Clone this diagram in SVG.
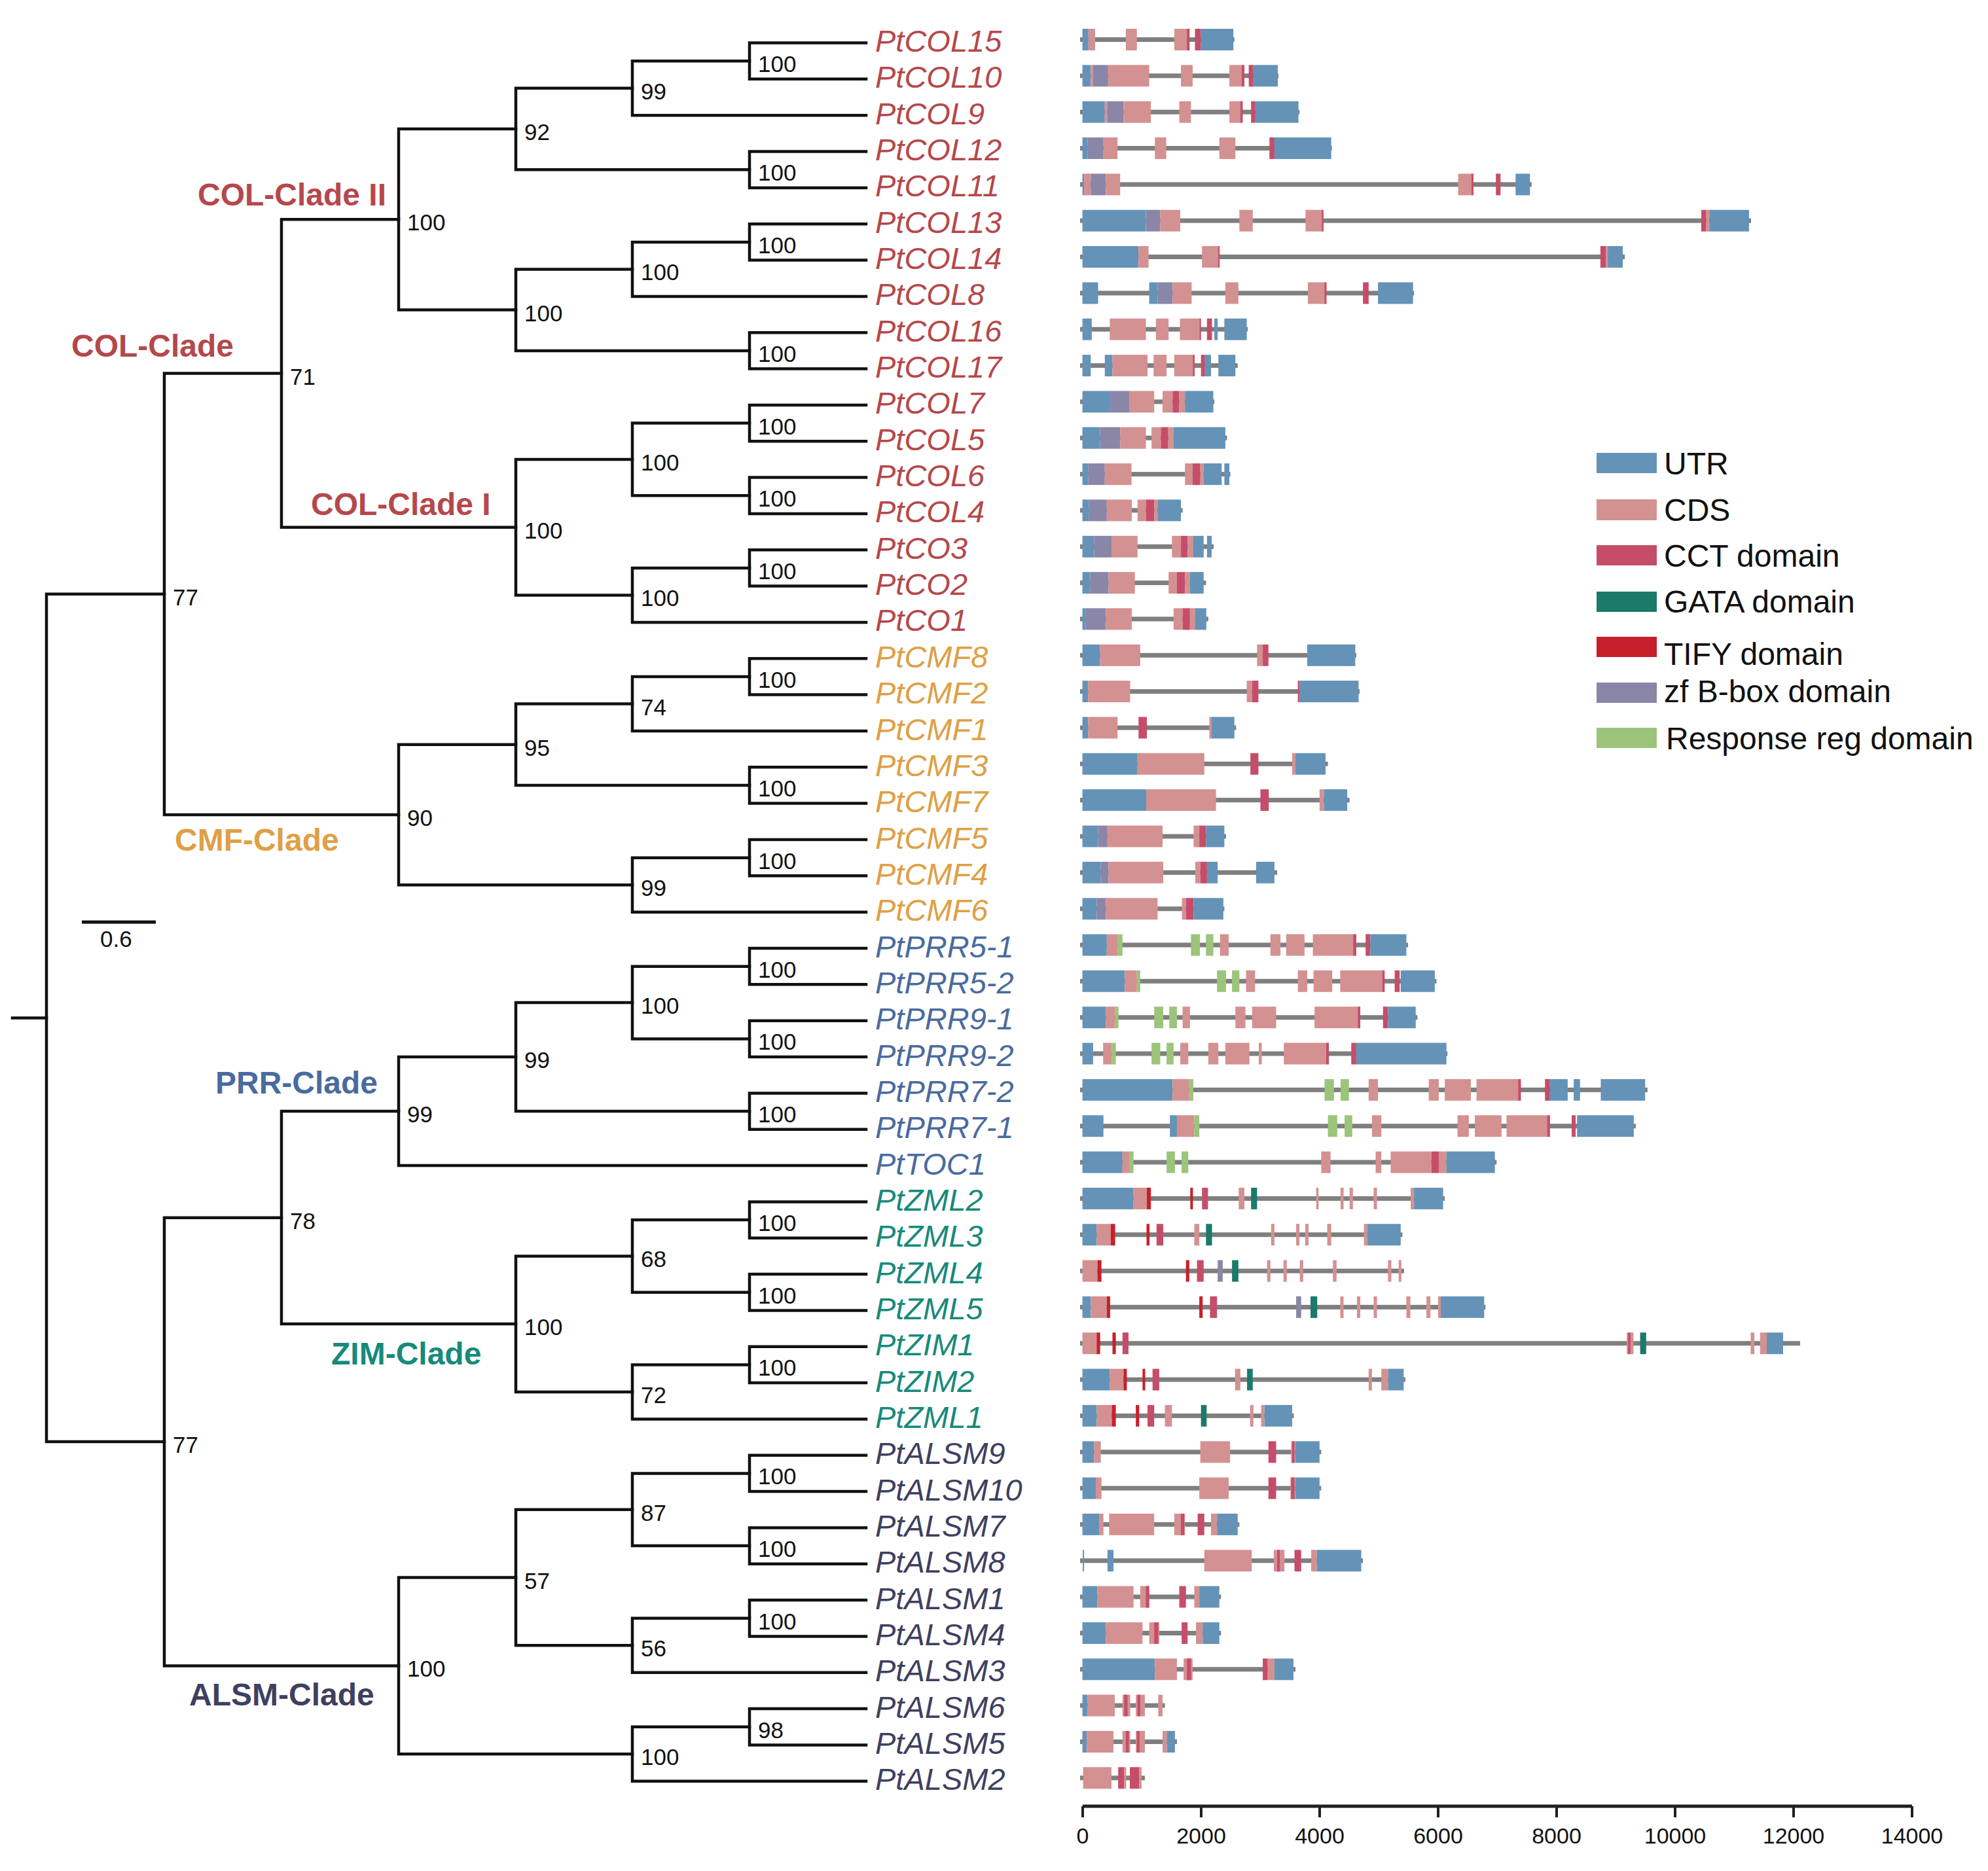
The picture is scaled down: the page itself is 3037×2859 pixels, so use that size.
<svg xmlns="http://www.w3.org/2000/svg" width="3037" height="2859" viewBox="0 0 3037 2859">
<style>
.br{fill:none;stroke:#111;stroke-width:4.5;stroke-linecap:square}
.bs{font-family:"Liberation Sans",Arial,sans-serif;font-size:35px;fill:#111}
.lf{font-family:"Liberation Sans",Arial,sans-serif;font-style:italic;font-size:47px}
.cl{font-family:"Liberation Sans",Arial,sans-serif;font-weight:bold;font-size:48px}
.lg{font-family:"Liberation Sans",Arial,sans-serif;font-size:48px;fill:#111}
.ax{font-family:"Liberation Sans",Arial,sans-serif;font-size:34px;fill:#111;text-anchor:middle}
.tcol{fill:#b5484b}.tcmf{fill:#dea046}.tprr{fill:#4a6b9e}.tzim{fill:#178a7a}.tals{fill:#3e4060}
.i{fill:#7f7f7f}.u{fill:#6593b8}.c{fill:#d49191}.k{fill:#c64d6a}.z{fill:#8a86a8}.r{fill:#9cc47b}.g{fill:#1b7a6a}.t{fill:#c8202a}
</style>
<rect width="3037" height="2859" fill="#fff"/>
<g id="connectors">
<path class="br" d="M19 1555.4H71"/>
<path class="br" d="M251 907.8H71V2203H251"/>
<path class="br" d="M1323 65.5H1145V120.8H1323"/>
<path class="br" d="M1145 93.2H966V176.2H1323"/>
<path class="br" d="M1323 231.5H1145V286.9H1323"/>
<path class="br" d="M966 134.7H788V259.2H1145"/>
<path class="br" d="M1323 342.2H1145V397.5H1323"/>
<path class="br" d="M1145 369.9H966V452.9H1323"/>
<path class="br" d="M1323 508.2H1145V563.6H1323"/>
<path class="br" d="M966 411.4H788V535.9H1145"/>
<path class="br" d="M788 197H609V473.6H788"/>
<path class="br" d="M1323 618.9H1145V674.2H1323"/>
<path class="br" d="M1323 729.6H1145V784.9H1323"/>
<path class="br" d="M1145 646.6H966V757.3H1145"/>
<path class="br" d="M1323 840.3H1145V895.6H1323"/>
<path class="br" d="M1145 868H966V950.9H1323"/>
<path class="br" d="M966 702H788V909.4H966"/>
<path class="br" d="M609 335.3H430V805.7H788"/>
<path class="br" d="M1323 1006.3H1145V1061.6H1323"/>
<path class="br" d="M1145 1034H966V1117H1323"/>
<path class="br" d="M1323 1172.3H1145V1227.6H1323"/>
<path class="br" d="M966 1075.5H788V1200H1145"/>
<path class="br" d="M1323 1283H1145V1338.3H1323"/>
<path class="br" d="M1145 1310.7H966V1393.7H1323"/>
<path class="br" d="M788 1137.7H609V1352.2H966"/>
<path class="br" d="M430 570.5H251V1245H609"/>
<path class="br" d="M1323 1449H1145V1504.3H1323"/>
<path class="br" d="M1323 1559.7H1145V1615H1323"/>
<path class="br" d="M1145 1476.7H966V1587.4H1145"/>
<path class="br" d="M1323 1670.4H1145V1725.7H1323"/>
<path class="br" d="M966 1532H788V1698H1145"/>
<path class="br" d="M788 1615H609V1781H1323"/>
<path class="br" d="M1323 1836.4H1145V1891.7H1323"/>
<path class="br" d="M1323 1947.1H1145V2002.4H1323"/>
<path class="br" d="M1145 1864H966V1974.7H1145"/>
<path class="br" d="M1323 2057.7H1145V2113.1H1323"/>
<path class="br" d="M1145 2085.4H966V2168.4H1323"/>
<path class="br" d="M966 1919.4H788V2126.9H966"/>
<path class="br" d="M609 1698H430V2023H788"/>
<path class="br" d="M1323 2223.8H1145V2279.1H1323"/>
<path class="br" d="M1323 2334.4H1145V2389.8H1323"/>
<path class="br" d="M1145 2251.4H966V2362.1H1145"/>
<path class="br" d="M1323 2445.1H1145V2500.5H1323"/>
<path class="br" d="M1145 2472.8H966V2555.8H1323"/>
<path class="br" d="M966 2306.8H788V2514.3H966"/>
<path class="br" d="M1323 2611.1H1145V2666.5H1323"/>
<path class="br" d="M1145 2638.8H966V2721.8H1323"/>
<path class="br" d="M788 2410.5H609V2680.3H966"/>
<path class="br" d="M430 1860.7H251V2545.4H609"/>
</g>
<g id="bootstrap">
<text class="bs" x="1158" y="110.2">100</text>
<text class="bs" x="979" y="151.7">99</text>
<text class="bs" x="1158" y="276.2">100</text>
<text class="bs" x="801" y="214">92</text>
<text class="bs" x="1158" y="386.9">100</text>
<text class="bs" x="979" y="428.4">100</text>
<text class="bs" x="1158" y="552.9">100</text>
<text class="bs" x="801" y="490.6">100</text>
<text class="bs" x="622" y="352.3">100</text>
<text class="bs" x="1158" y="663.6">100</text>
<text class="bs" x="1158" y="774.3">100</text>
<text class="bs" x="979" y="719">100</text>
<text class="bs" x="1158" y="885">100</text>
<text class="bs" x="979" y="926.4">100</text>
<text class="bs" x="801" y="822.7">100</text>
<text class="bs" x="443" y="587.5">71</text>
<text class="bs" x="1158" y="1051">100</text>
<text class="bs" x="979" y="1092.5">74</text>
<text class="bs" x="1158" y="1217">100</text>
<text class="bs" x="801" y="1154.7">95</text>
<text class="bs" x="1158" y="1327.7">100</text>
<text class="bs" x="979" y="1369.2">99</text>
<text class="bs" x="622" y="1262">90</text>
<text class="bs" x="264" y="924.8">77</text>
<text class="bs" x="1158" y="1493.7">100</text>
<text class="bs" x="1158" y="1604.4">100</text>
<text class="bs" x="979" y="1549">100</text>
<text class="bs" x="1158" y="1715">100</text>
<text class="bs" x="801" y="1632">99</text>
<text class="bs" x="622" y="1715">99</text>
<text class="bs" x="1158" y="1881">100</text>
<text class="bs" x="1158" y="1991.7">100</text>
<text class="bs" x="979" y="1936.4">68</text>
<text class="bs" x="1158" y="2102.4">100</text>
<text class="bs" x="979" y="2143.9">72</text>
<text class="bs" x="801" y="2040">100</text>
<text class="bs" x="443" y="1877.7">78</text>
<text class="bs" x="1158" y="2268.4">100</text>
<text class="bs" x="1158" y="2379.1">100</text>
<text class="bs" x="979" y="2323.8">87</text>
<text class="bs" x="1158" y="2489.8">100</text>
<text class="bs" x="979" y="2531.3">56</text>
<text class="bs" x="801" y="2427.5">57</text>
<text class="bs" x="1158" y="2655.8">98</text>
<text class="bs" x="979" y="2697.3">100</text>
<text class="bs" x="622" y="2562.4">100</text>
<text class="bs" x="264" y="2220">77</text>
</g>
<g id="clades">
<text class="cl tcol" x="302" y="314">COL-Clade II</text>
<text class="cl tcol" x="109" y="545">COL-Clade</text>
<text class="cl tcol" x="475" y="787">COL-Clade I</text>
<text class="cl tcmf" x="267" y="1300">CMF-Clade</text>
<text class="cl tprr" x="329" y="1671">PRR-Clade</text>
<text class="cl tzim" x="506" y="2085">ZIM-Clade</text>
<text class="cl tals" x="289" y="2606">ALSM-Clade</text>
</g>
<g id="scalebar">
<path d="M125 1409H238" stroke="#111" stroke-width="5"/>
<text class="bs" x="153" y="1447">0.6</text>
</g>
<g id="leaves">
<g id="PtCOL15"><text class="lf tcol" x="1337" y="79">PtCOL15</text><g transform="translate(1600 60.5) scale(0.5102 1)"><rect class="i" x="98" y="-3.5" width="462" height="7"/><rect class="u" x="105" y="-16.5" width="18" height="33"/><rect class="c" x="123" y="-16.5" width="20" height="33"/><rect class="c" x="235" y="-16.5" width="33" height="33"/><rect class="c" x="380" y="-16.5" width="40" height="33"/><rect class="k" x="418" y="-16.5" width="8" height="33"/><rect class="k" x="442" y="-16.5" width="18" height="33"/><rect class="u" x="460" y="-16.5" width="97" height="33"/></g></g>
<g id="PtCOL10"><text class="lf tcol" x="1337" y="134.3">PtCOL10</text><g transform="translate(1600 115.8) scale(0.5102 1)"><rect class="i" x="98" y="-3.5" width="594" height="7"/><rect class="u" x="105" y="-16.5" width="25" height="33"/><rect class="c" x="130" y="-16.5" width="7" height="33"/><rect class="z" x="137" y="-16.5" width="45" height="33"/><rect class="c" x="182" y="-16.5" width="123" height="33"/><rect class="c" x="400" y="-16.5" width="35" height="33"/><rect class="c" x="545" y="-16.5" width="37" height="33"/><rect class="k" x="582" y="-16.5" width="8" height="33"/><rect class="k" x="603" y="-16.5" width="14" height="33"/><rect class="u" x="617" y="-16.5" width="73" height="33"/></g></g>
<g id="PtCOL9"><text class="lf tcol" x="1337" y="189.7">PtCOL9</text><g transform="translate(1600 171.2) scale(0.5102 1)"><rect class="i" x="98" y="-3.5" width="657" height="7"/><rect class="u" x="105" y="-16.5" width="67" height="33"/><rect class="c" x="172" y="-16.5" width="8" height="33"/><rect class="z" x="180" y="-16.5" width="48" height="33"/><rect class="c" x="228" y="-16.5" width="82" height="33"/><rect class="c" x="395" y="-16.5" width="35" height="33"/><rect class="c" x="545" y="-16.5" width="35" height="33"/><rect class="k" x="578" y="-16.5" width="7" height="33"/><rect class="k" x="610" y="-16.5" width="13" height="33"/><rect class="u" x="623" y="-16.5" width="129" height="33"/></g></g>
<g id="PtCOL12"><text class="lf tcol" x="1337" y="245">PtCOL12</text><g transform="translate(1600 226.5) scale(0.5102 1)"><rect class="i" x="98" y="-3.5" width="754" height="7"/><rect class="u" x="105" y="-16.5" width="15" height="33"/><rect class="z" x="120" y="-16.5" width="48" height="33"/><rect class="c" x="168" y="-16.5" width="42" height="33"/><rect class="c" x="322" y="-16.5" width="34" height="33"/><rect class="c" x="515" y="-16.5" width="48" height="33"/><rect class="k" x="665" y="-16.5" width="15" height="33"/><rect class="u" x="680" y="-16.5" width="170" height="33"/></g></g>
<g id="PtCOL11"><text class="lf tcol" x="1337" y="300.4">PtCOL11</text><g transform="translate(1600 281.9) scale(0.5102 1)"><rect class="i" x="98" y="-3.5" width="1352" height="7"/><rect class="u" x="105" y="-16.5" width="5" height="33"/><rect class="c" x="110" y="-16.5" width="20" height="33"/><rect class="z" x="130" y="-16.5" width="45" height="33"/><rect class="c" x="175" y="-16.5" width="43" height="33"/><rect class="c" x="1230" y="-16.5" width="42" height="33"/><rect class="k" x="1270" y="-16.5" width="6" height="33"/><rect class="k" x="1343" y="-16.5" width="14" height="33"/><rect class="u" x="1402" y="-16.5" width="43" height="33"/></g></g>
<g id="PtCOL13"><text class="lf tcol" x="1337" y="355.7">PtCOL13</text><g transform="translate(1600 337.2) scale(0.5102 1)"><rect class="i" x="98" y="-3.5" width="2009" height="7"/><rect class="u" x="105" y="-16.5" width="190" height="33"/><rect class="z" x="295" y="-16.5" width="43" height="33"/><rect class="c" x="338" y="-16.5" width="60" height="33"/><rect class="c" x="575" y="-16.5" width="40" height="33"/><rect class="c" x="773" y="-16.5" width="52" height="33"/><rect class="k" x="822" y="-16.5" width="5" height="33"/><rect class="k" x="1958" y="-16.5" width="15" height="33"/><rect class="c" x="1973" y="-16.5" width="9" height="33"/><rect class="u" x="1982" y="-16.5" width="119" height="33"/></g></g>
<g id="PtCOL14"><text class="lf tcol" x="1337" y="411">PtCOL14</text><g transform="translate(1600 392.5) scale(0.5102 1)"><rect class="i" x="98" y="-3.5" width="1631" height="7"/><rect class="u" x="105" y="-16.5" width="168" height="33"/><rect class="c" x="273" y="-16.5" width="30" height="33"/><rect class="c" x="463" y="-16.5" width="52" height="33"/><rect class="k" x="512" y="-16.5" width="4" height="33"/><rect class="k" x="1656" y="-16.5" width="16" height="33"/><rect class="c" x="1672" y="-16.5" width="6" height="33"/><rect class="u" x="1678" y="-16.5" width="45" height="33"/></g></g>
<g id="PtCOL8"><text class="lf tcol" x="1337" y="466.4">PtCOL8</text><g transform="translate(1600 447.9) scale(0.5102 1)"><rect class="i" x="98" y="-3.5" width="1000" height="7"/><rect class="u" x="105" y="-16.5" width="47" height="33"/><rect class="u" x="305" y="-16.5" width="25" height="33"/><rect class="z" x="330" y="-16.5" width="45" height="33"/><rect class="c" x="375" y="-16.5" width="57" height="33"/><rect class="c" x="533" y="-16.5" width="39" height="33"/><rect class="c" x="780" y="-16.5" width="52" height="33"/><rect class="k" x="830" y="-16.5" width="6" height="33"/><rect class="k" x="945" y="-16.5" width="17" height="33"/><rect class="u" x="990" y="-16.5" width="105" height="33"/></g></g>
<g id="PtCOL16"><text class="lf tcol" x="1337" y="521.7">PtCOL16</text><g transform="translate(1600 503.2) scale(0.5102 1)"><rect class="i" x="98" y="-3.5" width="502" height="7"/><rect class="u" x="105" y="-16.5" width="28" height="33"/><rect class="c" x="187" y="-16.5" width="108" height="33"/><rect class="c" x="325" y="-16.5" width="38" height="33"/><rect class="c" x="397" y="-16.5" width="61" height="33"/><rect class="k" x="456" y="-16.5" width="4" height="33"/><rect class="k" x="478" y="-16.5" width="15" height="33"/><rect class="u" x="500" y="-16.5" width="10" height="33"/><rect class="u" x="530" y="-16.5" width="67" height="33"/></g></g>
<g id="PtCOL17"><text class="lf tcol" x="1337" y="577.1">PtCOL17</text><g transform="translate(1600 558.6) scale(0.5102 1)"><rect class="i" x="98" y="-3.5" width="472" height="7"/><rect class="u" x="105" y="-16.5" width="25" height="33"/><rect class="u" x="172" y="-16.5" width="23" height="33"/><rect class="c" x="195" y="-16.5" width="105" height="33"/><rect class="c" x="318" y="-16.5" width="39" height="33"/><rect class="c" x="380" y="-16.5" width="58" height="33"/><rect class="k" x="436" y="-16.5" width="5" height="33"/><rect class="k" x="460" y="-16.5" width="12" height="33"/><rect class="u" x="472" y="-16.5" width="18" height="33"/><rect class="u" x="512" y="-16.5" width="51" height="33"/></g></g>
<g id="PtCOL7"><text class="lf tcol" x="1337" y="632.4">PtCOL7</text><g transform="translate(1600 613.9) scale(0.5102 1)"><rect class="i" x="98" y="-3.5" width="402" height="7"/><rect class="u" x="105" y="-16.5" width="83" height="33"/><rect class="z" x="188" y="-16.5" width="57" height="33"/><rect class="c" x="245" y="-16.5" width="75" height="33"/><rect class="c" x="345" y="-16.5" width="30" height="33"/><rect class="k" x="375" y="-16.5" width="20" height="33"/><rect class="c" x="395" y="-16.5" width="17" height="33"/><rect class="u" x="412" y="-16.5" width="85" height="33"/></g></g>
<g id="PtCOL5"><text class="lf tcol" x="1337" y="687.7">PtCOL5</text><g transform="translate(1600 669.2) scale(0.5102 1)"><rect class="i" x="98" y="-3.5" width="440" height="7"/><rect class="u" x="105" y="-16.5" width="53" height="33"/><rect class="z" x="158" y="-16.5" width="60" height="33"/><rect class="c" x="218" y="-16.5" width="77" height="33"/><rect class="c" x="312" y="-16.5" width="28" height="33"/><rect class="k" x="340" y="-16.5" width="22" height="33"/><rect class="c" x="362" y="-16.5" width="16" height="33"/><rect class="u" x="378" y="-16.5" width="155" height="33"/></g></g>
<g id="PtCOL6"><text class="lf tcol" x="1337" y="743.1">PtCOL6</text><g transform="translate(1600 724.6) scale(0.5102 1)"><rect class="i" x="98" y="-3.5" width="450" height="7"/><rect class="u" x="105" y="-16.5" width="17" height="33"/><rect class="z" x="122" y="-16.5" width="50" height="33"/><rect class="c" x="172" y="-16.5" width="80" height="33"/><rect class="c" x="412" y="-16.5" width="23" height="33"/><rect class="k" x="435" y="-16.5" width="23" height="33"/><rect class="c" x="458" y="-16.5" width="10" height="33"/><rect class="u" x="468" y="-16.5" width="54" height="33"/><rect class="u" x="530" y="-16.5" width="15" height="33"/></g></g>
<g id="PtCOL4"><text class="lf tcol" x="1337" y="798.4">PtCOL4</text><g transform="translate(1600 779.9) scale(0.5102 1)"><rect class="i" x="98" y="-3.5" width="307" height="7"/><rect class="u" x="105" y="-16.5" width="20" height="33"/><rect class="z" x="125" y="-16.5" width="53" height="33"/><rect class="c" x="178" y="-16.5" width="75" height="33"/><rect class="c" x="270" y="-16.5" width="25" height="33"/><rect class="k" x="295" y="-16.5" width="25" height="33"/><rect class="c" x="320" y="-16.5" width="10" height="33"/><rect class="u" x="330" y="-16.5" width="70" height="33"/></g></g>
<g id="PtCO3"><text class="lf tcol" x="1337" y="853.8">PtCO3</text><g transform="translate(1600 835.3) scale(0.5102 1)"><rect class="i" x="98" y="-3.5" width="400" height="7"/><rect class="u" x="105" y="-16.5" width="35" height="33"/><rect class="z" x="140" y="-16.5" width="52" height="33"/><rect class="c" x="192" y="-16.5" width="78" height="33"/><rect class="c" x="373" y="-16.5" width="27" height="33"/><rect class="k" x="400" y="-16.5" width="20" height="33"/><rect class="c" x="420" y="-16.5" width="17" height="33"/><rect class="u" x="437" y="-16.5" width="31" height="33"/><rect class="u" x="478" y="-16.5" width="14" height="33"/></g></g>
<g id="PtCO2"><text class="lf tcol" x="1337" y="909.1">PtCO2</text><g transform="translate(1600 890.6) scale(0.5102 1)"><rect class="i" x="98" y="-3.5" width="377" height="7"/><rect class="u" x="105" y="-16.5" width="23" height="33"/><rect class="z" x="128" y="-16.5" width="55" height="33"/><rect class="c" x="183" y="-16.5" width="79" height="33"/><rect class="c" x="363" y="-16.5" width="25" height="33"/><rect class="k" x="388" y="-16.5" width="24" height="33"/><rect class="c" x="412" y="-16.5" width="15" height="33"/><rect class="u" x="427" y="-16.5" width="41" height="33"/></g></g>
<g id="PtCO1"><text class="lf tcol" x="1337" y="964.4">PtCO1</text><g transform="translate(1600 945.9) scale(0.5102 1)"><rect class="i" x="98" y="-3.5" width="384" height="7"/><rect class="u" x="105" y="-16.5" width="10" height="33"/><rect class="z" x="115" y="-16.5" width="60" height="33"/><rect class="c" x="175" y="-16.5" width="78" height="33"/><rect class="c" x="378" y="-16.5" width="27" height="33"/><rect class="k" x="405" y="-16.5" width="22" height="33"/><rect class="c" x="427" y="-16.5" width="16" height="33"/><rect class="u" x="443" y="-16.5" width="33" height="33"/></g></g>
<g id="PtCMF8"><text class="lf tcmf" x="1337" y="1019.8">PtCMF8</text><g transform="translate(1600 1001.3) scale(0.5102 1)"><rect class="i" x="98" y="-3.5" width="827" height="7"/><rect class="u" x="105" y="-16.5" width="53" height="33"/><rect class="c" x="158" y="-16.5" width="120" height="33"/><rect class="c" x="628" y="-16.5" width="17" height="33"/><rect class="k" x="645" y="-16.5" width="17" height="33"/><rect class="u" x="778" y="-16.5" width="144" height="33"/></g></g>
<g id="PtCMF2"><text class="lf tcmf" x="1337" y="1075.1">PtCMF2</text><g transform="translate(1600 1056.6) scale(0.5102 1)"><rect class="i" x="98" y="-3.5" width="837" height="7"/><rect class="u" x="105" y="-16.5" width="17" height="33"/><rect class="c" x="122" y="-16.5" width="126" height="33"/><rect class="c" x="597" y="-16.5" width="16" height="33"/><rect class="k" x="613" y="-16.5" width="19" height="33"/><rect class="k" x="750" y="-16.5" width="5" height="33"/><rect class="u" x="755" y="-16.5" width="177" height="33"/></g></g>
<g id="PtCMF1"><text class="lf tcmf" x="1337" y="1130.5">PtCMF1</text><g transform="translate(1600 1112) scale(0.5102 1)"><rect class="i" x="98" y="-3.5" width="467" height="7"/><rect class="u" x="105" y="-16.5" width="17" height="33"/><rect class="c" x="122" y="-16.5" width="88" height="33"/><rect class="k" x="273" y="-16.5" width="25" height="33"/><rect class="c" x="485" y="-16.5" width="7" height="33"/><rect class="u" x="492" y="-16.5" width="68" height="33"/></g></g>
<g id="PtCMF3"><text class="lf tcmf" x="1337" y="1185.8">PtCMF3</text><g transform="translate(1600 1167.3) scale(0.5102 1)"><rect class="i" x="98" y="-3.5" width="742" height="7"/><rect class="u" x="105" y="-16.5" width="165" height="33"/><rect class="c" x="270" y="-16.5" width="200" height="33"/><rect class="k" x="608" y="-16.5" width="24" height="33"/><rect class="c" x="733" y="-16.5" width="10" height="33"/><rect class="u" x="743" y="-16.5" width="90" height="33"/></g></g>
<g id="PtCMF7"><text class="lf tcmf" x="1337" y="1241.1">PtCMF7</text><g transform="translate(1600 1222.6) scale(0.5102 1)"><rect class="i" x="98" y="-3.5" width="807" height="7"/><rect class="u" x="105" y="-16.5" width="191" height="33"/><rect class="c" x="296" y="-16.5" width="209" height="33"/><rect class="k" x="638" y="-16.5" width="25" height="33"/><rect class="c" x="815" y="-16.5" width="13" height="33"/><rect class="u" x="828" y="-16.5" width="70" height="33"/></g></g>
<g id="PtCMF5"><text class="lf tcmf" x="1337" y="1296.5">PtCMF5</text><g transform="translate(1600 1278) scale(0.5102 1)"><rect class="i" x="98" y="-3.5" width="437" height="7"/><rect class="u" x="105" y="-16.5" width="47" height="33"/><rect class="z" x="152" y="-16.5" width="28" height="33"/><rect class="c" x="180" y="-16.5" width="165" height="33"/><rect class="c" x="438" y="-16.5" width="17" height="33"/><rect class="k" x="455" y="-16.5" width="20" height="33"/><rect class="u" x="475" y="-16.5" width="55" height="33"/></g></g>
<g id="PtCMF4"><text class="lf tcmf" x="1337" y="1351.8">PtCMF4</text><g transform="translate(1600 1333.3) scale(0.5102 1)"><rect class="i" x="98" y="-3.5" width="590" height="7"/><rect class="u" x="105" y="-16.5" width="55" height="33"/><rect class="z" x="160" y="-16.5" width="23" height="33"/><rect class="c" x="183" y="-16.5" width="164" height="33"/><rect class="c" x="443" y="-16.5" width="15" height="33"/><rect class="k" x="458" y="-16.5" width="20" height="33"/><rect class="u" x="478" y="-16.5" width="32" height="33"/><rect class="u" x="625" y="-16.5" width="55" height="33"/></g></g>
<g id="PtCMF6"><text class="lf tcmf" x="1337" y="1407.2">PtCMF6</text><g transform="translate(1600 1388.7) scale(0.5102 1)"><rect class="i" x="98" y="-3.5" width="432" height="7"/><rect class="u" x="105" y="-16.5" width="43" height="33"/><rect class="z" x="148" y="-16.5" width="27" height="33"/><rect class="c" x="175" y="-16.5" width="155" height="33"/><rect class="c" x="403" y="-16.5" width="12" height="33"/><rect class="k" x="415" y="-16.5" width="23" height="33"/><rect class="u" x="438" y="-16.5" width="89" height="33"/></g></g>
<g id="PtPRR5-1"><text class="lf tprr" x="1337" y="1462.5">PtPRR5-1</text><g transform="translate(1600 1444) scale(0.5102 1)"><rect class="i" x="98" y="-3.5" width="982" height="7"/><rect class="u" x="105" y="-16.5" width="73" height="33"/><rect class="c" x="178" y="-16.5" width="32" height="33"/><rect class="r" x="210" y="-16.5" width="15" height="33"/><rect class="r" x="430" y="-16.5" width="27" height="33"/><rect class="r" x="475" y="-16.5" width="22" height="33"/><rect class="c" x="517" y="-16.5" width="26" height="33"/><rect class="c" x="668" y="-16.5" width="30" height="33"/><rect class="c" x="715" y="-16.5" width="55" height="33"/><rect class="c" x="795" y="-16.5" width="123" height="33"/><rect class="k" x="916" y="-16.5" width="9" height="33"/><rect class="k" x="953" y="-16.5" width="14" height="33"/><rect class="u" x="967" y="-16.5" width="108" height="33"/></g></g>
<g id="PtPRR5-2"><text class="lf tprr" x="1337" y="1517.8">PtPRR5-2</text><g transform="translate(1600 1499.3) scale(0.5102 1)"><rect class="i" x="98" y="-3.5" width="1067" height="7"/><rect class="u" x="105" y="-16.5" width="127" height="33"/><rect class="c" x="232" y="-16.5" width="36" height="33"/><rect class="r" x="268" y="-16.5" width="10" height="33"/><rect class="r" x="508" y="-16.5" width="27" height="33"/><rect class="r" x="553" y="-16.5" width="22" height="33"/><rect class="c" x="595" y="-16.5" width="27" height="33"/><rect class="c" x="750" y="-16.5" width="28" height="33"/><rect class="c" x="797" y="-16.5" width="56" height="33"/><rect class="c" x="877" y="-16.5" width="128" height="33"/><rect class="k" x="1003" y="-16.5" width="7" height="33"/><rect class="k" x="1040" y="-16.5" width="15" height="33"/><rect class="u" x="1058" y="-16.5" width="102" height="33"/></g></g>
<g id="PtPRR9-1"><text class="lf tprr" x="1337" y="1573.2">PtPRR9-1</text><g transform="translate(1600 1554.7) scale(0.5102 1)"><rect class="i" x="98" y="-3.5" width="1010" height="7"/><rect class="u" x="105" y="-16.5" width="70" height="33"/><rect class="c" x="175" y="-16.5" width="28" height="33"/><rect class="r" x="203" y="-16.5" width="10" height="33"/><rect class="r" x="320" y="-16.5" width="27" height="33"/><rect class="r" x="365" y="-16.5" width="23" height="33"/><rect class="c" x="405" y="-16.5" width="22" height="33"/><rect class="c" x="563" y="-16.5" width="30" height="33"/><rect class="c" x="613" y="-16.5" width="72" height="33"/><rect class="c" x="800" y="-16.5" width="132" height="33"/><rect class="k" x="930" y="-16.5" width="7" height="33"/><rect class="k" x="1005" y="-16.5" width="15" height="33"/><rect class="u" x="1020" y="-16.5" width="83" height="33"/></g></g>
<g id="PtPRR9-2"><text class="lf tprr" x="1337" y="1628.5">PtPRR9-2</text><g transform="translate(1600 1610) scale(0.5102 1)"><rect class="i" x="98" y="-3.5" width="1100" height="7"/><rect class="u" x="105" y="-16.5" width="32" height="33"/><rect class="c" x="167" y="-16.5" width="26" height="33"/><rect class="r" x="193" y="-16.5" width="12" height="33"/><rect class="r" x="312" y="-16.5" width="26" height="33"/><rect class="r" x="357" y="-16.5" width="21" height="33"/><rect class="c" x="398" y="-16.5" width="24" height="33"/><rect class="c" x="482" y="-16.5" width="30" height="33"/><rect class="c" x="533" y="-16.5" width="72" height="33"/><rect class="c" x="633" y="-16.5" width="9" height="33"/><rect class="c" x="708" y="-16.5" width="130" height="33"/><rect class="k" x="835" y="-16.5" width="8" height="33"/><rect class="k" x="910" y="-16.5" width="15" height="33"/><rect class="u" x="925" y="-16.5" width="270" height="33"/></g></g>
<g id="PtPRR7-2"><text class="lf tprr" x="1337" y="1683.9">PtPRR7-2</text><g transform="translate(1600 1665.4) scale(0.5102 1)"><rect class="i" x="98" y="-3.5" width="1699" height="7"/><rect class="u" x="105" y="-16.5" width="270" height="33"/><rect class="c" x="375" y="-16.5" width="50" height="33"/><rect class="r" x="425" y="-16.5" width="12" height="33"/><rect class="r" x="830" y="-16.5" width="28" height="33"/><rect class="r" x="878" y="-16.5" width="25" height="33"/><rect class="c" x="962" y="-16.5" width="28" height="33"/><rect class="c" x="1142" y="-16.5" width="30" height="33"/><rect class="c" x="1190" y="-16.5" width="78" height="33"/><rect class="c" x="1285" y="-16.5" width="128" height="33"/><rect class="k" x="1410" y="-16.5" width="8" height="33"/><rect class="k" x="1490" y="-16.5" width="15" height="33"/><rect class="u" x="1505" y="-16.5" width="53" height="33"/><rect class="u" x="1576" y="-16.5" width="19" height="33"/><rect class="u" x="1657" y="-16.5" width="133" height="33"/></g></g>
<g id="PtPRR7-1"><text class="lf tprr" x="1337" y="1739.2">PtPRR7-1</text><g transform="translate(1600 1720.7) scale(0.5102 1)"><rect class="i" x="98" y="-3.5" width="1664" height="7"/><rect class="u" x="105" y="-16.5" width="63" height="33"/><rect class="u" x="367" y="-16.5" width="21" height="33"/><rect class="c" x="388" y="-16.5" width="52" height="33"/><rect class="r" x="440" y="-16.5" width="15" height="33"/><rect class="r" x="840" y="-16.5" width="28" height="33"/><rect class="r" x="890" y="-16.5" width="23" height="33"/><rect class="c" x="972" y="-16.5" width="28" height="33"/><rect class="c" x="1228" y="-16.5" width="34" height="33"/><rect class="c" x="1280" y="-16.5" width="80" height="33"/><rect class="c" x="1375" y="-16.5" width="125" height="33"/><rect class="k" x="1497" y="-16.5" width="8" height="33"/><rect class="k" x="1570" y="-16.5" width="12" height="33"/><rect class="u" x="1586" y="-16.5" width="170" height="33"/></g></g>
<g id="PtTOC1"><text class="lf tprr" x="1337" y="1794.5">PtTOC1</text><g transform="translate(1600 1776) scale(0.5102 1)"><rect class="i" x="98" y="-3.5" width="1247" height="7"/><rect class="u" x="105" y="-16.5" width="120" height="33"/><rect class="c" x="225" y="-16.5" width="20" height="33"/><rect class="r" x="245" y="-16.5" width="13" height="33"/><rect class="r" x="357" y="-16.5" width="25" height="33"/><rect class="r" x="402" y="-16.5" width="20" height="33"/><rect class="c" x="820" y="-16.5" width="28" height="33"/><rect class="c" x="983" y="-16.5" width="17" height="33"/><rect class="c" x="1028" y="-16.5" width="122" height="33"/><rect class="k" x="1150" y="-16.5" width="22" height="33"/><rect class="c" x="1172" y="-16.5" width="23" height="33"/><rect class="u" x="1195" y="-16.5" width="145" height="33"/></g></g>
<g id="PtZML2"><text class="lf tzim" x="1337" y="1849.9">PtZML2</text><g transform="translate(1600 1831.4) scale(0.5102 1)"><rect class="i" x="98" y="-3.5" width="1092" height="7"/><rect class="u" x="105" y="-16.5" width="153" height="33"/><rect class="c" x="258" y="-16.5" width="40" height="33"/><rect class="t" x="298" y="-16.5" width="12" height="33"/><rect class="t" x="428" y="-16.5" width="8" height="33"/><rect class="k" x="463" y="-16.5" width="18" height="33"/><rect class="c" x="573" y="-16.5" width="17" height="33"/><rect class="g" x="610" y="-16.5" width="18" height="33"/><rect class="c" x="805" y="-16.5" width="7" height="33"/><rect class="c" x="878" y="-16.5" width="9" height="33"/><rect class="c" x="905" y="-16.5" width="10" height="33"/><rect class="c" x="977" y="-16.5" width="10" height="33"/><rect class="c" x="1088" y="-16.5" width="10" height="33"/><rect class="u" x="1098" y="-16.5" width="87" height="33"/></g></g>
<g id="PtZML3"><text class="lf tzim" x="1337" y="1905.2">PtZML3</text><g transform="translate(1600 1886.7) scale(0.5102 1)"><rect class="i" x="98" y="-3.5" width="965" height="7"/><rect class="u" x="105" y="-16.5" width="43" height="33"/><rect class="c" x="148" y="-16.5" width="42" height="33"/><rect class="t" x="190" y="-16.5" width="13" height="33"/><rect class="t" x="297" y="-16.5" width="9" height="33"/><rect class="k" x="327" y="-16.5" width="20" height="33"/><rect class="c" x="440" y="-16.5" width="15" height="33"/><rect class="g" x="475" y="-16.5" width="18" height="33"/><rect class="c" x="670" y="-16.5" width="10" height="33"/><rect class="c" x="745" y="-16.5" width="10" height="33"/><rect class="c" x="772" y="-16.5" width="10" height="33"/><rect class="c" x="838" y="-16.5" width="12" height="33"/><rect class="c" x="948" y="-16.5" width="10" height="33"/><rect class="u" x="958" y="-16.5" width="100" height="33"/></g></g>
<g id="PtZML4"><text class="lf tzim" x="1337" y="1960.6">PtZML4</text><g transform="translate(1600 1942.1) scale(0.5102 1)"><rect class="i" x="98" y="-3.5" width="970" height="7"/><rect class="c" x="105" y="-16.5" width="45" height="33"/><rect class="t" x="150" y="-16.5" width="12" height="33"/><rect class="t" x="415" y="-16.5" width="10" height="33"/><rect class="k" x="448" y="-16.5" width="20" height="33"/><rect class="z" x="510" y="-16.5" width="15" height="33"/><rect class="g" x="553" y="-16.5" width="19" height="33"/><rect class="c" x="658" y="-16.5" width="10" height="33"/><rect class="c" x="707" y="-16.5" width="10" height="33"/><rect class="c" x="756" y="-16.5" width="10" height="33"/><rect class="c" x="855" y="-16.5" width="11" height="33"/><rect class="c" x="1020" y="-16.5" width="10" height="33"/><rect class="c" x="1052" y="-16.5" width="8" height="33"/></g></g>
<g id="PtZML5"><text class="lf tzim" x="1337" y="2015.9">PtZML5</text><g transform="translate(1600 1997.4) scale(0.5102 1)"><rect class="i" x="98" y="-3.5" width="1214" height="7"/><rect class="u" x="105" y="-16.5" width="25" height="33"/><rect class="c" x="130" y="-16.5" width="48" height="33"/><rect class="t" x="178" y="-16.5" width="10" height="33"/><rect class="t" x="455" y="-16.5" width="10" height="33"/><rect class="k" x="487" y="-16.5" width="21" height="33"/><rect class="z" x="745" y="-16.5" width="15" height="33"/><rect class="g" x="788" y="-16.5" width="20" height="33"/><rect class="c" x="877" y="-16.5" width="10" height="33"/><rect class="c" x="927" y="-16.5" width="10" height="33"/><rect class="c" x="977" y="-16.5" width="10" height="33"/><rect class="c" x="1075" y="-16.5" width="12" height="33"/><rect class="c" x="1135" y="-16.5" width="12" height="33"/><rect class="c" x="1170" y="-16.5" width="8" height="33"/><rect class="u" x="1178" y="-16.5" width="130" height="33"/></g></g>
<g id="PtZIM1"><text class="lf tzim" x="1337" y="2071.2">PtZIM1</text><g transform="translate(1600 2052.7) scale(0.5102 1)"><rect class="i" x="98" y="-3.5" width="2156" height="7"/><rect class="c" x="105" y="-16.5" width="45" height="33"/><rect class="t" x="148" y="-16.5" width="10" height="33"/><rect class="t" x="195" y="-16.5" width="10" height="33"/><rect class="k" x="225" y="-16.5" width="18" height="33"/><rect class="c" x="1735" y="-16.5" width="20" height="33"/><rect class="k" x="1739" y="-16.5" width="7" height="33"/><rect class="g" x="1775" y="-16.5" width="18" height="33"/><rect class="c" x="2106" y="-16.5" width="11" height="33"/><rect class="c" x="2134" y="-16.5" width="20" height="33"/><rect class="u" x="2154" y="-16.5" width="49" height="33"/></g></g>
<g id="PtZIM2"><text class="lf tzim" x="1337" y="2126.6">PtZIM2</text><g transform="translate(1600 2108.1) scale(0.5102 1)"><rect class="i" x="98" y="-3.5" width="974" height="7"/><rect class="u" x="105" y="-16.5" width="82" height="33"/><rect class="c" x="187" y="-16.5" width="41" height="33"/><rect class="t" x="228" y="-16.5" width="10" height="33"/><rect class="t" x="285" y="-16.5" width="8" height="33"/><rect class="k" x="315" y="-16.5" width="20" height="33"/><rect class="c" x="562" y="-16.5" width="16" height="33"/><rect class="g" x="598" y="-16.5" width="17" height="33"/><rect class="c" x="962" y="-16.5" width="10" height="33"/><rect class="c" x="1000" y="-16.5" width="20" height="33"/><rect class="u" x="1020" y="-16.5" width="47" height="33"/></g></g>
<g id="PtZML1"><text class="lf tzim" x="1337" y="2181.9">PtZML1</text><g transform="translate(1600 2163.4) scale(0.5102 1)"><rect class="i" x="98" y="-3.5" width="640" height="7"/><rect class="u" x="105" y="-16.5" width="43" height="33"/><rect class="c" x="148" y="-16.5" width="45" height="33"/><rect class="t" x="193" y="-16.5" width="12" height="33"/><rect class="t" x="265" y="-16.5" width="10" height="33"/><rect class="k" x="300" y="-16.5" width="20" height="33"/><rect class="c" x="352" y="-16.5" width="21" height="33"/><rect class="g" x="460" y="-16.5" width="17" height="33"/><rect class="c" x="607" y="-16.5" width="10" height="33"/><rect class="c" x="640" y="-16.5" width="10" height="33"/><rect class="u" x="650" y="-16.5" width="83" height="33"/></g></g>
<g id="PtALSM9"><text class="lf tals" x="1337" y="2237.3">PtALSM9</text><g transform="translate(1600 2218.8) scale(0.5102 1)"><rect class="i" x="98" y="-3.5" width="722" height="7"/><rect class="u" x="105" y="-16.5" width="35" height="33"/><rect class="c" x="140" y="-16.5" width="20" height="33"/><rect class="c" x="458" y="-16.5" width="89" height="33"/><rect class="k" x="662" y="-16.5" width="23" height="33"/><rect class="c" x="730" y="-16.5" width="12" height="33"/><rect class="k" x="733" y="-16.5" width="7" height="33"/><rect class="u" x="742" y="-16.5" width="73" height="33"/></g></g>
<g id="PtALSM10"><text class="lf tals" x="1337" y="2292.6">PtALSM10</text><g transform="translate(1600 2274.1) scale(0.5102 1)"><rect class="i" x="98" y="-3.5" width="722" height="7"/><rect class="u" x="105" y="-16.5" width="40" height="33"/><rect class="c" x="145" y="-16.5" width="17" height="33"/><rect class="c" x="455" y="-16.5" width="88" height="33"/><rect class="k" x="662" y="-16.5" width="23" height="33"/><rect class="c" x="728" y="-16.5" width="14" height="33"/><rect class="k" x="730" y="-16.5" width="10" height="33"/><rect class="u" x="742" y="-16.5" width="73" height="33"/></g></g>
<g id="PtALSM7"><text class="lf tals" x="1337" y="2347.9">PtALSM7</text><g transform="translate(1600 2329.4) scale(0.5102 1)"><rect class="i" x="98" y="-3.5" width="477" height="7"/><rect class="u" x="105" y="-16.5" width="50" height="33"/><rect class="c" x="155" y="-16.5" width="13" height="33"/><rect class="c" x="185" y="-16.5" width="135" height="33"/><rect class="c" x="380" y="-16.5" width="32" height="33"/><rect class="k" x="400" y="-16.5" width="10" height="33"/><rect class="k" x="450" y="-16.5" width="20" height="33"/><rect class="c" x="490" y="-16.5" width="18" height="33"/><rect class="u" x="508" y="-16.5" width="62" height="33"/></g></g>
<g id="PtALSM8"><text class="lf tals" x="1337" y="2403.3">PtALSM8</text><g transform="translate(1600 2384.8) scale(0.5102 1)"><rect class="i" x="98" y="-3.5" width="847" height="7"/><rect class="u" x="106" y="-16.5" width="4" height="33"/><rect class="u" x="180" y="-16.5" width="18" height="33"/><rect class="c" x="470" y="-16.5" width="142" height="33"/><rect class="c" x="678" y="-16.5" width="32" height="33"/><rect class="k" x="688" y="-16.5" width="8" height="33"/><rect class="k" x="740" y="-16.5" width="20" height="33"/><rect class="c" x="790" y="-16.5" width="17" height="33"/><rect class="u" x="807" y="-16.5" width="133" height="33"/></g></g>
<g id="PtALSM1"><text class="lf tals" x="1337" y="2458.6">PtALSM1</text><g transform="translate(1600 2440.1) scale(0.5102 1)"><rect class="i" x="98" y="-3.5" width="422" height="7"/><rect class="u" x="105" y="-16.5" width="45" height="33"/><rect class="c" x="150" y="-16.5" width="108" height="33"/><rect class="c" x="278" y="-16.5" width="27" height="33"/><rect class="k" x="295" y="-16.5" width="10" height="33"/><rect class="k" x="395" y="-16.5" width="20" height="33"/><rect class="c" x="440" y="-16.5" width="15" height="33"/><rect class="u" x="455" y="-16.5" width="60" height="33"/></g></g>
<g id="PtALSM4"><text class="lf tals" x="1337" y="2514">PtALSM4</text><g transform="translate(1600 2495.5) scale(0.5102 1)"><rect class="i" x="98" y="-3.5" width="422" height="7"/><rect class="u" x="105" y="-16.5" width="70" height="33"/><rect class="c" x="175" y="-16.5" width="110" height="33"/><rect class="c" x="305" y="-16.5" width="30" height="33"/><rect class="k" x="320" y="-16.5" width="12" height="33"/><rect class="k" x="402" y="-16.5" width="18" height="33"/><rect class="c" x="445" y="-16.5" width="20" height="33"/><rect class="u" x="465" y="-16.5" width="50" height="33"/></g></g>
<g id="PtALSM3"><text class="lf tals" x="1337" y="2569.3">PtALSM3</text><g transform="translate(1600 2550.8) scale(0.5102 1)"><rect class="i" x="98" y="-3.5" width="645" height="7"/><rect class="u" x="105" y="-16.5" width="217" height="33"/><rect class="c" x="322" y="-16.5" width="66" height="33"/><rect class="c" x="408" y="-16.5" width="27" height="33"/><rect class="k" x="418" y="-16.5" width="12" height="33"/><rect class="k" x="645" y="-16.5" width="15" height="33"/><rect class="c" x="660" y="-16.5" width="20" height="33"/><rect class="u" x="680" y="-16.5" width="57" height="33"/></g></g>
<g id="PtALSM6"><text class="lf tals" x="1337" y="2624.6">PtALSM6</text><g transform="translate(1600 2606.1) scale(0.5102 1)"><rect class="i" x="98" y="-3.5" width="254" height="7"/><rect class="u" x="105" y="-16.5" width="15" height="33"/><rect class="c" x="120" y="-16.5" width="82" height="33"/><rect class="c" x="225" y="-16.5" width="23" height="33"/><rect class="k" x="230" y="-16.5" width="10" height="33"/><rect class="c" x="265" y="-16.5" width="27" height="33"/><rect class="k" x="270" y="-16.5" width="8" height="33"/><rect class="c" x="332" y="-16.5" width="13" height="33"/></g></g>
<g id="PtALSM5"><text class="lf tals" x="1337" y="2680">PtALSM5</text><g transform="translate(1600 2661.5) scale(0.5102 1)"><rect class="i" x="98" y="-3.5" width="290" height="7"/><rect class="u" x="105" y="-16.5" width="13" height="33"/><rect class="c" x="118" y="-16.5" width="80" height="33"/><rect class="c" x="225" y="-16.5" width="23" height="33"/><rect class="k" x="235" y="-16.5" width="9" height="33"/><rect class="c" x="265" y="-16.5" width="27" height="33"/><rect class="k" x="268" y="-16.5" width="8" height="33"/><rect class="c" x="345" y="-16.5" width="13" height="33"/><rect class="u" x="358" y="-16.5" width="24" height="33"/></g></g>
<g id="PtALSM2"><text class="lf tals" x="1337" y="2735.3">PtALSM2</text><g transform="translate(1600 2716.8) scale(0.5102 1)"><rect class="i" x="98" y="-3.5" width="194" height="7"/><rect class="c" x="107" y="-16.5" width="85" height="33"/><rect class="k" x="212" y="-16.5" width="18" height="33"/><rect class="c" x="230" y="-16.5" width="6" height="33"/><rect class="k" x="247" y="-16.5" width="28" height="33"/><rect class="c" x="275" y="-16.5" width="7" height="33"/></g></g>
</g>
<g id="legend">
<rect class="u" x="2439" y="692" width="92" height="31"/><text class="lg" x="2542" y="725">UTR</text>
<rect class="c" x="2439" y="763" width="92" height="32"/><text class="lg" x="2542" y="796">CDS</text>
<rect class="k" x="2439" y="833" width="92" height="31"/><text class="lg" x="2542" y="866">CCT domain</text>
<rect class="g" x="2439" y="904" width="92" height="31"/><text class="lg" x="2542" y="936">GATA domain</text>
<rect class="t" x="2439" y="973" width="92" height="31"/><text class="lg" x="2542" y="1016">TIFY domain</text>
<rect class="z" x="2439" y="1043" width="92" height="31"/><text class="lg" x="2542" y="1073">zf B-box domain</text>
<rect class="r" x="2439" y="1112" width="92" height="31"/><text class="lg" x="2545" y="1145">Response reg domain</text>
</g>
<g id="axis">
<path d="M1654 2760H2921" stroke="#231f20" stroke-width="5"/>
<path d="M1654 2760V2777M1835 2760V2777M2016 2760V2777M2197 2760V2777M2378 2760V2777M2559 2760V2777M2740 2760V2777M2921 2760V2777" stroke="#231f20" stroke-width="4"/>
<text class="ax" x="1654" y="2817">0</text>
<text class="ax" x="1835" y="2817">2000</text>
<text class="ax" x="2016" y="2817">4000</text>
<text class="ax" x="2197" y="2817">6000</text>
<text class="ax" x="2378" y="2817">8000</text>
<text class="ax" x="2559" y="2817">10000</text>
<text class="ax" x="2740" y="2817">12000</text>
<text class="ax" x="2921" y="2817">14000</text>
</g>
</svg>
